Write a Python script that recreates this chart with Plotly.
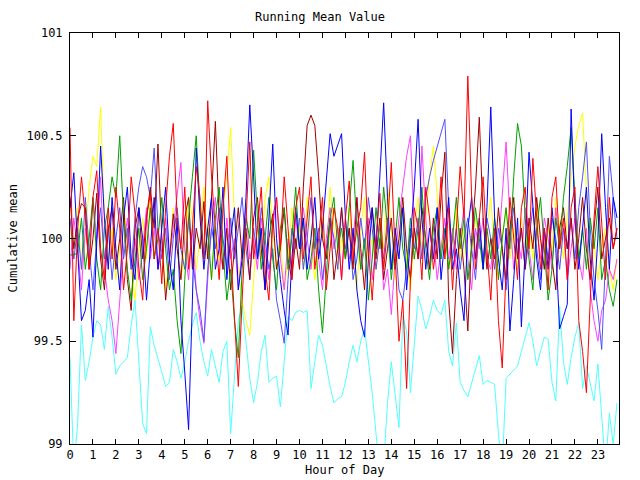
import numpy as np
import plotly.graph_objects as go

# time of day in hours, 10-minute steps
hours = np.arange(144) / 6.0

cyan_vals = [
 99.42, 98.88, 99.10, 99.58, 99.31, 99.40, 99.52, 99.60, 99.58, 99.46, 99.67, 99.52,
 99.34, 99.38, 99.40, 99.42, 99.58, 99.70, 99.40, 99.10, 99.05, 99.57, 99.48, 99.42,
 99.35, 99.28, 99.30, 99.46, 99.40, 99.32, 99.40, 99.50, 99.58, 99.64, 99.50, 99.40,
 99.33, 99.46, 99.38, 99.30, 99.45, 99.50, 99.05, 99.35, 99.60, 99.67, 99.50, 99.32,
 99.20, 99.30, 99.45, 99.53, 99.30, 99.32, 99.33, 99.18, 99.40, 99.62, 99.60, 99.64,
 99.65, 99.64, 99.65, 99.27, 99.40, 99.53, 99.48, 99.38, 99.28, 99.20, 99.22, 99.23,
 99.30, 99.40, 99.48, 99.40, 99.50, 99.56, 99.40, 99.25, 99.05, 98.85, 98.90, 99.20,
 99.40, 99.25, 99.08, 99.62, 99.55, 99.25, 99.50, 99.72, 99.65, 99.56, 99.62, 99.70,
 99.65, 99.63, 99.70, 99.45, 99.38, 99.59, 99.30, 99.26, 99.23, 99.30, 99.36, 99.43,
 99.29, 99.31, 99.30, 99.29, 99.05, 98.88, 99.32, 99.34, 99.36, 99.38, 99.45, 99.52,
 99.59, 99.50, 99.38, 99.45, 99.52, 99.51, 99.30, 99.21, 99.67, 99.40, 99.29, 99.42,
 99.52, 99.59, 99.27, 99.38, 99.30, 99.21, 99.39, 99.10, 98.88, 99.15, 99.00, 99.20]

yellow_vals = [
 100.05, 99.90, 100.15, 99.85, 100.00, 100.25, 100.40, 100.35, 100.64, 100.10, 99.90, 100.05,
 99.80, 99.95, 100.15, 100.00, 99.85, 99.70, 99.95, 100.10, 99.90, 100.20, 100.05, 99.85,
 100.00, 99.75, 99.90, 100.15, 100.05, 99.80, 99.95, 100.20, 100.10, 99.85, 100.00, 100.25,
 99.95, 99.80, 100.05, 99.90, 100.15, 100.30, 100.54, 100.10, 99.85, 99.70, 99.60, 99.53,
 99.80, 100.05, 99.90, 100.20, 100.30, 100.05, 99.85, 100.00, 99.75, 99.90, 100.15, 99.95,
 100.05, 99.85, 100.20, 100.00, 99.80, 99.95, 100.10, 99.90, 100.25, 100.05, 99.85, 100.00,
 99.90, 100.15, 99.95, 99.75, 100.05, 100.20, 99.90, 100.00, 99.85, 100.10, 99.95, 100.25,
 100.05, 99.80, 100.00, 100.15, 99.90, 99.75, 100.05, 100.20, 99.95, 100.10, 100.30, 100.45,
 100.20, 99.90, 100.05, 99.85, 100.00, 100.15, 99.90, 100.05, 99.80, 99.95, 100.10, 100.00,
 99.85, 100.05, 100.20, 99.95, 99.80, 100.00, 100.15, 99.90, 100.05, 99.85, 100.10, 99.95,
 100.05, 99.90, 100.15, 100.00, 99.85, 100.05, 99.95, 100.20, 100.05, 99.90, 100.10, 100.30,
 100.45, 100.55, 100.61, 100.20, 99.85, 100.00, 99.80, 99.95, 100.05, 99.85, 99.75, 99.90]

magenta_vals = [
 99.85, 100.10, 99.95, 99.75, 100.05, 99.90, 100.20, 100.00, 100.30, 99.85, 99.70, 99.60,
 99.44, 99.72, 99.95, 100.10, 99.85, 100.00, 99.80, 99.95, 100.15, 99.90, 100.05, 99.85,
 99.95, 100.10, 99.90, 100.05, 100.20, 100.37, 99.95, 99.80, 100.05, 99.75, 99.60, 99.49,
 99.80, 100.05, 100.20, 99.95, 99.85, 100.10, 99.90, 100.00, 99.75, 99.95, 100.15, 99.90,
 100.00, 99.85, 100.10, 99.95, 99.80, 100.05, 100.20, 99.90, 99.75, 100.00, 99.85, 100.10,
 99.95, 100.15, 100.00, 99.85, 100.05, 99.90, 99.75, 100.00, 100.15, 99.95, 100.05, 99.80,
 100.10, 99.90, 100.00, 100.20, 99.85, 99.95, 100.10, 99.80, 99.95, 100.05, 99.75, 99.85,
 99.63, 99.90, 100.10, 100.25, 100.40, 100.50, 100.05, 99.90, 100.45, 100.10, 99.85, 100.00,
 99.80, 99.95, 100.10, 99.90, 100.05, 99.85, 100.00, 100.15, 99.90, 99.75, 100.05, 99.95,
 100.10, 99.90, 99.85, 100.05, 99.95, 100.20, 100.47, 100.10, 99.85, 100.00, 99.90, 100.15,
 99.95, 99.80, 100.05, 99.90, 100.10, 100.00, 99.85, 100.15, 99.95, 100.05, 99.80, 99.95,
 100.10, 99.90, 99.80, 100.05, 99.75, 99.60, 99.50, 99.65, 99.70, 99.85, 99.80, 99.90]

lightblue_vals = [
 100.10, 99.90, 100.05, 99.85, 100.20, 99.95, 99.75, 100.00, 100.15, 99.90, 100.05, 99.80,
 100.00, 100.15, 99.90, 100.05, 99.85, 100.10, 100.25, 100.35, 100.30, 100.20, 100.44, 100.05,
 99.90, 100.05, 99.80, 100.00, 100.15, 99.95, 99.85, 100.10, 99.90, 99.75, 99.65, 99.50,
 99.85, 100.05, 99.95, 100.15, 100.00, 99.85, 100.10, 99.90, 100.05, 100.20, 99.95, 99.80,
 100.05, 99.90, 100.15, 100.00, 99.85, 99.95, 99.70, 99.60, 99.49, 99.80, 100.05, 99.95,
 100.10, 99.85, 100.00, 100.20, 99.95, 100.05, 99.80, 99.95, 100.10, 100.00, 99.85, 100.15,
 99.95, 100.05, 99.80, 99.90, 100.10, 99.95, 100.20, 100.05, 99.85, 100.00, 99.90, 100.10,
 99.85, 100.00, 99.75, 99.70, 99.85, 100.05, 99.95, 100.10, 99.90, 100.20, 100.30, 100.38,
 100.45, 100.52, 100.58, 100.15, 99.90, 100.05, 99.85, 100.00, 100.10, 99.95, 99.80, 100.05,
 99.90, 100.10, 100.00, 99.85, 100.05, 99.95, 99.75, 100.00, 100.15, 99.90, 100.05, 99.85,
 100.00, 100.15, 99.95, 99.80, 100.05, 99.90, 100.10, 100.00, 99.85, 100.05, 99.95, 100.10,
 99.90, 100.15, 100.30, 100.47, 100.05, 99.80, 99.65, 99.46, 99.90, 100.40, 100.20, 100.00]

darkred_vals = [
 100.20, 99.95, 100.10, 100.17, 100.15, 99.85, 100.00, 100.22, 99.90, 99.75, 100.05, 100.15,
 99.85, 100.00, 100.20, 99.80, 99.65, 100.05, 100.15, 99.90, 100.10, 100.25, 100.05, 100.46,
 100.00, 99.70, 99.90, 100.12, 99.95, 99.80, 100.10, 100.20, 99.85, 100.05, 99.95, 100.18,
 99.90, 100.20, 100.57, 100.10, 99.85, 100.05, 99.75, 99.95, 100.15, 99.90, 100.05, 99.80,
 100.10, 100.20, 99.95, 99.75, 100.00, 100.12, 99.85, 99.95, 100.15, 99.90, 99.80, 100.00,
 99.85, 100.25, 100.55, 100.60, 100.55, 100.30, 100.00, 99.90, 100.10, 99.80, 99.95, 100.15,
 99.90, 100.05, 99.85, 100.20, 99.95, 99.75, 100.05, 100.15, 99.90, 100.10, 99.80, 99.95,
 100.10, 99.85, 100.00, 100.20, 99.95, 99.80, 100.05, 99.90, 100.15, 100.00, 99.85, 100.10,
 99.90, 100.20, 100.42, 99.70, 99.44, 99.80, 100.05, 99.85, 99.55, 100.00, 100.25, 100.59,
 100.10, 99.85, 100.00, 99.90, 100.15, 99.95, 99.80, 100.05, 100.20, 99.90, 100.05, 99.85,
 100.10, 99.95, 100.20, 100.00, 99.85, 100.10, 99.90, 99.75, 100.05, 100.15, 99.95, 100.10,
 99.85, 100.00, 100.20, 99.95, 99.80, 100.05, 100.25, 99.90, 100.00, 100.10, 99.95, 100.05]

green_vals = [
 99.92, 99.92, 99.93, 100.10, 99.85, 100.00, 100.20, 99.90, 99.75, 100.05, 100.15, 100.30,
 100.20, 100.50, 100.10, 99.85, 99.70, 99.90, 100.05, 99.80, 99.95, 100.15, 99.90, 100.00,
 100.20, 99.95, 99.75, 99.85, 99.60, 99.44, 99.80, 100.10, 100.30, 100.50, 100.15, 99.90,
 100.05, 99.80, 100.10, 100.25, 99.95, 99.70, 99.85, 99.60, 99.42, 99.85, 100.10, 100.00,
 100.43, 100.10, 99.85, 100.00, 100.20, 99.90, 99.75, 100.05, 100.15, 99.85, 100.00, 100.25,
 99.95, 100.10, 99.80, 99.90, 100.05, 99.75, 99.54, 99.80, 100.10, 100.20, 99.95, 100.05,
 99.90, 100.15, 100.38, 100.05, 99.85, 100.00, 99.70, 99.90, 100.15, 99.95, 100.25, 100.05,
 99.80, 100.00, 100.20, 99.95, 99.85, 100.10, 99.90, 100.05, 100.25, 99.95, 99.80, 100.05,
 100.15, 99.90, 100.05, 99.85, 100.00, 100.20, 99.95, 100.10, 99.80, 99.95, 100.15, 100.00,
 99.85, 100.05, 99.90, 100.10, 99.80, 100.00, 100.15, 99.95, 100.30, 100.56, 100.45, 100.10,
 99.90, 99.75, 100.05, 100.20, 99.95, 99.70, 99.85, 100.10, 99.95, 100.20, 100.35, 100.54,
 100.20, 99.90, 100.05, 99.85, 100.10, 99.95, 100.15, 99.80, 99.90, 99.75, 99.67, 99.80]

blue_vals = [
 100.15, 100.32, 99.95, 99.60, 99.65, 99.80, 99.52, 100.00, 100.45, 100.10, 99.85, 100.20,
 99.95, 99.75, 100.10, 100.25, 99.90, 99.80, 100.15, 100.00, 99.70, 99.95, 100.20, 99.85,
 100.05, 100.25, 99.90, 99.75, 100.10, 99.60, 99.35, 99.07, 99.70, 100.44, 100.10, 99.85,
 100.05, 100.20, 99.85, 99.95, 100.25, 99.80, 100.00, 100.15, 99.75, 99.90, 100.20, 100.65,
 100.30, 99.90, 100.05, 99.75, 100.10, 100.46, 100.00, 99.80, 99.65, 99.53, 99.90, 100.15,
 99.95, 100.10, 99.85, 100.00, 100.20, 99.90, 100.05, 100.30, 100.51, 100.40, 100.45, 100.51,
 100.10, 99.85, 100.05, 99.75, 99.60, 99.52, 99.90, 100.15, 99.95, 100.30, 100.66, 100.20,
 99.85, 100.05, 99.90, 100.15, 99.75, 100.00, 100.25, 100.58, 100.10, 99.85, 100.05, 99.90,
 100.15, 99.80, 100.00, 100.20, 99.85, 99.95, 99.75, 99.60, 100.05, 100.20, 99.90, 100.10,
 99.85, 100.15, 100.64, 100.10, 99.90, 99.75, 100.05, 99.55, 99.80, 100.10, 99.57, 99.95,
 100.42, 100.15, 99.90, 99.75, 100.05, 99.85, 100.15, 99.95, 99.56, 99.62, 99.68, 100.63,
 100.10, 99.85, 100.05, 100.25, 99.90, 99.70, 100.00, 100.51, 100.15, 99.85, 100.20, 100.10]

red_vals = [
 100.54, 99.60, 100.05, 100.30, 100.10, 99.85, 100.20, 100.33, 99.95, 99.80, 100.15, 99.90,
 100.25, 100.05, 99.75, 99.95, 100.30, 100.12, 99.85, 99.70, 100.10, 100.22, 99.90, 100.05,
 99.78, 100.15, 100.40, 100.56, 100.10, 99.95, 100.25, 99.85, 100.05, 100.35, 100.20, 99.90,
 100.67, 100.30, 100.05, 99.80, 100.15, 100.40, 99.95, 99.60, 99.28, 99.70, 100.10, 100.47,
 99.90, 100.05, 100.25, 99.85, 99.70, 100.10, 100.20, 99.95, 100.30, 100.05, 99.80, 100.15,
 100.25, 99.90, 100.10, 100.30, 99.85, 100.00, 100.20, 99.75, 99.95, 100.15, 100.05, 99.80,
 100.10, 100.28, 99.90, 100.05, 100.15, 100.42, 99.95, 99.70, 100.00, 100.22, 99.85, 100.05,
 100.37, 99.95, 99.50, 99.70, 99.27, 99.80, 100.15, 100.05, 99.80, 100.25, 100.10, 99.85,
 100.00, 100.30, 99.90, 100.15, 99.75, 100.05, 100.35, 100.10, 100.79, 100.20, 99.85, 100.10,
 100.30, 99.95, 99.70, 100.05, 99.60, 99.37, 99.85, 100.20, 100.00, 99.80, 100.15, 100.25,
 99.95, 100.39, 100.10, 99.85, 100.05, 99.75, 100.20, 100.30, 99.95, 100.10, 99.80, 100.15,
 100.25, 99.60, 99.45, 99.25, 99.70, 100.10, 100.35, 100.05, 99.80, 100.20, 99.95, 100.05]

series = [
    ("cyan", cyan_vals, "#50ffff"),
    ("yellow", yellow_vals, "#ffff00"),
    ("magenta", magenta_vals, "#ff40ff"),
    ("lightblue", lightblue_vals, "#5050ff"),
    ("darkred", darkred_vals, "#a00000"),
    ("green", green_vals, "#00a000"),
    ("blue", blue_vals, "#0000ff"),
    ("red", red_vals, "#ff0000"),
]

x_tick_vals = list(range(24))
x_tick_text = [str(h) for h in x_tick_vals]
y_tick_vals = [99, 99.5, 100, 100.5, 101]
y_tick_text = ["99", "99.5", "100", "100.5", "101"]

fig = go.Figure()
for name, vals, col in series:
    fig.add_trace(go.Scatter(x=hours, y=vals, mode="lines", name=name,
                             line=dict(color=col, width=1), showlegend=False))

font_name = "DejaVu Sans Mono"
fs = 12
fig.update_layout(
    width=640, height=480,
    margin=dict(l=70, r=21, t=33, b=36, autoexpand=False),
    paper_bgcolor="white", plot_bgcolor="white",
    font=dict(family=font_name, size=fs, color="black"),
    title=dict(text="Running Mean Value", x=0.5, xanchor="center", y=1 - 17 / 480,
               yanchor="middle", font=dict(family=font_name, size=fs)),
    showlegend=False,
    annotations=[
        dict(text="Hour of Day", xref="paper", yref="paper", x=0.5, y=0,
             yshift=-26, xanchor="center", yanchor="middle", showarrow=False,
             font=dict(family=font_name, size=fs)),
        dict(text="Cumulative mean", xref="paper", yref="paper", x=0, y=0.5,
             xshift=-58, textangle=-90, xanchor="center", yanchor="middle",
             showarrow=False, font=dict(family=font_name, size=fs)),
    ],
)
fig.update_xaxes(
    range=[0, 23.92], tickmode="array", tickvals=x_tick_vals, ticktext=x_tick_text,
    ticks="inside", ticklen=5, tickcolor="black", mirror="allticks", automargin=False,
    showline=True, linecolor="black", linewidth=1, showgrid=False, zeroline=False,
)
fig.update_yaxes(
    range=[99, 101], tickmode="array", tickvals=y_tick_vals, ticktext=y_tick_text,
    ticks="inside", ticklen=6, tickcolor="black", mirror="allticks", automargin=False,
    showline=True, linecolor="black", linewidth=1, showgrid=False, zeroline=False,
    ticklabelstandoff=4,
)

fig.write_html("out.html")
